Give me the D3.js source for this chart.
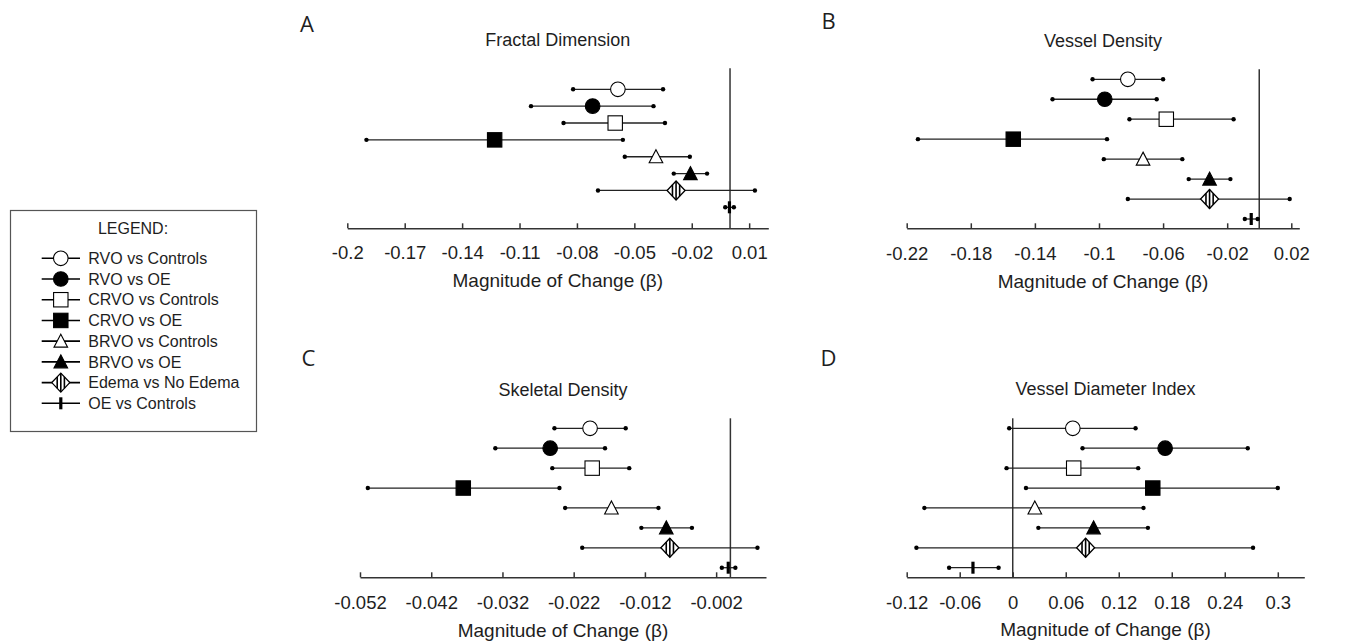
<!DOCTYPE html>
<html>
<head>
<meta charset="utf-8">
<script src="https://cdn.jsdelivr.net/npm/d3@7"></script>
<style>
  body { margin: 0; background: #fff; }
  svg { display: block; font-family: "Liberation Sans", Arial, sans-serif; }
  .tick text { font-size: 18.5px; fill: #1e1e1e; }
  .domain, .tick line { stroke: #333; stroke-width: 1.5; }
</style>
</head>
<body>
<div id="chart"></div>
<script>
// comparison groups, in plotting order (top to bottom)
const groups = ['RVO vs Controls', 'RVO vs OE', 'CRVO vs Controls', 'CRVO vs OE',
  'BRVO vs Controls', 'BRVO vs OE', 'Edema vs No Edema', 'OE vs Controls'];

// A - fractal dimension
const fractalEst = [-0.0586, -0.0718, -0.060, -0.123, -0.0387, -0.0207, -0.0282, -0.0003];
const fractalLo  = [-0.082, -0.104, -0.087, -0.190, -0.055, -0.0294, -0.069, -0.0025];
const fractalHi  = [-0.035, -0.040, -0.034, -0.056, -0.021, -0.012, 0.013, 0.002];
const fractalTicks = [-0.2, -0.17, -0.14, -0.11, -0.08, -0.05, -0.02, 0.01];

// B - vessel density
const vesselEst = [-0.082, -0.0964, -0.058, -0.1535, -0.0725, -0.031, -0.031, -0.005];
const vesselLo  = [-0.104, -0.129, -0.081, -0.213, -0.097, -0.044, -0.082, -0.009];
const vesselHi  = [-0.060, -0.064, -0.016, -0.095, -0.048, -0.018, 0.019, -0.001];
const vesselTicks = [-0.22, -0.18, -0.14, -0.1, -0.06, -0.02, 0.02];

// C - skeletal density
const skeletalEst = [-0.0197, -0.0253, -0.0194, -0.0375, -0.0167, -0.009, -0.0085, -0.0003];
const skeletalLo  = [-0.0247, -0.033, -0.025, -0.0509, -0.0232, -0.0125, -0.0208, -0.0012];
const skeletalHi  = [-0.0147, -0.0176, -0.0142, -0.024, -0.0101, -0.0054, 0.0038, 0.0007];
const skeletalTicks = [-0.052, -0.042, -0.032, -0.022, -0.012, -0.002];

// D - vessel diameter index
const diameterEst = [0.068, 0.1725, 0.069, 0.1585, 0.025, 0.0915, 0.0825, -0.045];
const diameterLo  = [-0.004, 0.079, -0.007, 0.015, -0.100, 0.029, -0.109, -0.072];
const diameterHi  = [0.139, 0.266, 0.142, 0.300, 0.148, 0.153, 0.272, -0.016];
const diameterTicks = [-0.12, -0.06, 0, 0.06, 0.12, 0.18, 0.24, 0.3];

// marker look per group
const markerKind   = ['circle', 'circle', 'square', 'square', 'triangle', 'triangle', 'diamond', 'bar'];
const markerFilled = [false, true, false, true, false, true, false, true];

const panels = [
  { letter: 'A', title: 'Fractal Dimension', est: fractalEst, lo: fractalLo, hi: fractalHi, ticks: fractalTicks,
    domain: [-0.2, 0.02], x0: 347.3, x1: 768.3, rows: [89.3, 207.3], lineTop: 68.3, axisY: 228.3,
    letterPos: [300, 32.3], titleY: 45.7, labelY: 259, axisTitleY: 287 },
  { letter: 'B', title: 'Vessel Density', est: vesselEst, lo: vesselLo, hi: vesselHi, ticks: vesselTicks,
    domain: [-0.22, 0.025], x0: 906.7, x1: 1299.3, rows: [79.3, 219], lineTop: 69.3, axisY: 228.3,
    letterPos: [821.5, 29], titleY: 46.5, labelY: 260, axisTitleY: 288 },
  { letter: 'C', title: 'Skeletal Density', est: skeletalEst, lo: skeletalLo, hi: skeletalHi, ticks: skeletalTicks,
    domain: [-0.052, 0.005], x0: 360, x1: 766, rows: [428.3, 567.7], lineTop: 418.3, axisY: 577.3,
    letterPos: [301.5, 365.7], titleY: 396, labelY: 608.7, axisTitleY: 636.5 },
  { letter: 'D', title: 'Vessel Diameter Index', est: diameterEst, lo: diameterLo, hi: diameterHi, ticks: diameterTicks,
    domain: [-0.12, 0.33], x0: 906.7, x1: 1304.3, rows: [428.3, 567.7], lineTop: 418.3, axisY: 577.3,
    letterPos: [820.5, 365.7], titleY: 395, labelY: 608.7, axisTitleY: 636 }
];

const ink = '#1e1e1e';

const svg = d3.select('#chart').append('svg')
  .attr('width', 1347)
  .attr('height', 642);

function drawMarker(g, kind, filled) {
  const fill = filled ? '#000' : '#fff';
  if (kind === 'circle') {
    g.append('circle').attr('r', 7.3).attr('fill', fill).attr('stroke', '#000').attr('stroke-width', 1.1);
  } else if (kind === 'square') {
    g.append('rect').attr('x', -7.2).attr('y', -7.2).attr('width', 14.4).attr('height', 14.4)
      .attr('fill', fill).attr('stroke', '#000').attr('stroke-width', 1.1);
  } else if (kind === 'triangle') {
    g.append('path').attr('d', 'M0,-7 L6.8,6 L-6.8,6 Z')
      .attr('fill', fill).attr('stroke', '#000').attr('stroke-width', 1.1);
  } else if (kind === 'diamond') {
    const w = 9, h = 9.5;
    g.append('path').attr('d', `M0,${-h} L${w},0 L0,${h} L${-w},0 Z`)
      .attr('fill', '#fff').attr('stroke', '#000').attr('stroke-width', 1.3);
    [-3.6, 0, 3.6].forEach(dx => {
      const hh = h * (1 - Math.abs(dx) / w);
      g.append('line').attr('x1', dx).attr('x2', dx).attr('y1', -hh).attr('y2', hh)
        .attr('stroke', '#000').attr('stroke-width', 1.6);
    });
  } else if (kind === 'bar') {
    g.append('rect').attr('x', -1.6).attr('y', -6).attr('width', 3.2).attr('height', 12).attr('fill', '#000');
  }
}

panels.forEach(p => {
  const x = d3.scaleLinear().domain(p.domain).range([p.x0, p.x1]);
  const y = d3.scalePoint().domain(groups).range(p.rows);
  const g = svg.append('g');

  g.append('text')
    .attr('x', p.letterPos[0]).attr('y', p.letterPos[1])
    .attr('font-family', '"Open Sans", sans-serif')
    .attr('font-size', 22).attr('fill', ink)
    .text(p.letter);

  g.append('text')
    .attr('x', (p.x0 + p.x1) / 2).attr('y', p.titleY)
    .attr('text-anchor', 'middle').attr('font-size', 18).attr('fill', ink)
    .text(p.title);

  // zero reference line
  g.append('line')
    .attr('x1', x(0)).attr('x2', x(0))
    .attr('y1', p.lineTop).attr('y2', p.axisY)
    .attr('stroke', '#333').attr('stroke-width', 1.5);

  const axis = g.append('g')
    .attr('transform', `translate(0,${p.axisY})`)
    .call(d3.axisBottom(x).tickValues(p.ticks).tickSizeInner(-5).tickSizeOuter(0).tickFormat(d => String(d)));
  axis.selectAll('.tick text').attr('y', p.labelY - p.axisY).attr('dy', 0);

  g.append('text')
    .attr('x', (p.x0 + p.x1) / 2).attr('y', p.axisTitleY)
    .attr('text-anchor', 'middle').attr('font-size', 19).attr('fill', ink)
    .text('Magnitude of Change (β)');

  const rows = g.selectAll('.row')
    .data(groups.map((name, i) => ({ name, i, est: p.est[i], lo: p.lo[i], hi: p.hi[i] })))
    .join('g').attr('class', 'row');

  rows.append('line')
    .attr('x1', d => x(d.lo)).attr('x2', d => x(d.hi))
    .attr('y1', d => y(d.name)).attr('y2', d => y(d.name))
    .attr('stroke', '#222').attr('stroke-width', 1.3);

  rows.selectAll('.cap')
    .data(d => [d.lo, d.hi].map(v => ({ v, name: d.name })))
    .join('circle').attr('class', 'cap')
    .attr('cx', d => x(d.v)).attr('cy', d => y(d.name)).attr('r', 2.2).attr('fill', '#000');

  rows.each(function(d) {
    const m = d3.select(this).append('g').attr('transform', `translate(${x(d.est)},${y(d.name)})`);
    drawMarker(m, markerKind[d.i], markerFilled[d.i]);
  });
});

// legend
const legend = svg.append('g');
legend.append('rect')
  .attr('x', 10.5).attr('y', 210.5).attr('width', 246).attr('height', 221)
  .attr('fill', '#fff').attr('stroke', '#555').attr('stroke-width', 1.2);
legend.append('text')
  .attr('x', 133).attr('y', 233.5).attr('text-anchor', 'middle')
  .attr('font-size', 16).attr('fill', ink).text('LEGEND:');

const ly = d3.scalePoint().domain(groups).range([258.3, 403.3]);
groups.forEach((name, i) => {
  const row = legend.append('g');
  row.append('line')
    .attr('x1', 41.7).attr('x2', 80).attr('y1', ly(name)).attr('y2', ly(name))
    .attr('stroke', '#000').attr('stroke-width', 1.6);
  const m = row.append('g').attr('transform', `translate(60.8,${ly(name)})`);
  drawMarker(m, markerKind[i], markerFilled[i]);
  row.append('text')
    .attr('x', 88.3).attr('y', ly(name)).attr('dy', '0.36em')
    .attr('font-size', 16).attr('fill', ink).text(name);
});
</script>
</body>
</html>
